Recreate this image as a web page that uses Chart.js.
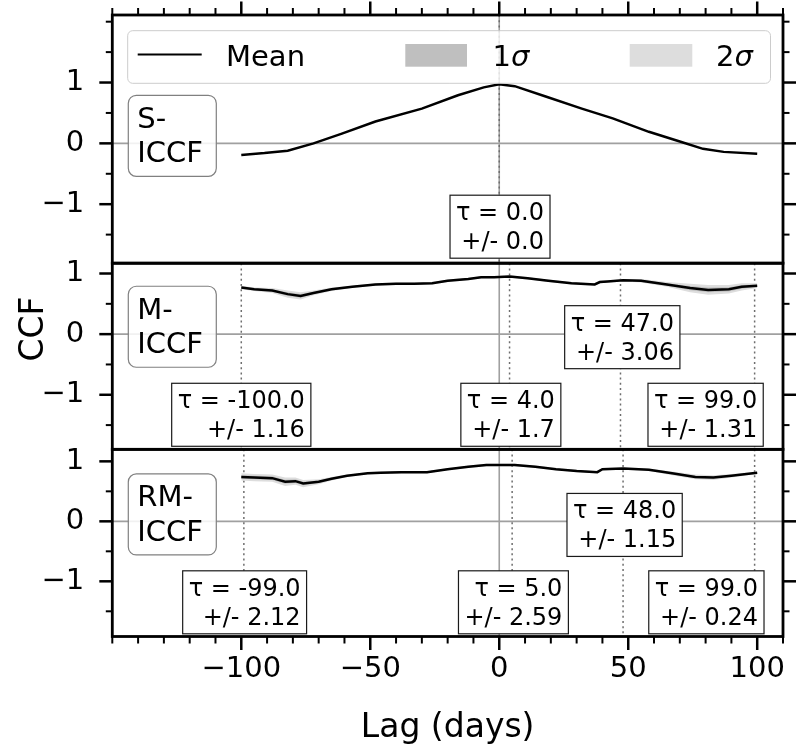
<!DOCTYPE html>
<html lang="en">
<head>
<meta charset="UTF-8">
<title>ICCF lag comparison</title>
<script src="https://cdn.jsdelivr.net/npm/chart.js@4"></script>
<style>
  html, body { margin: 0; padding: 0; background: #fff; }
  #wrap { width: 800px; height: 750px; }
</style>
</head>
<body>
<div id="wrap"><canvas id="ccfChart" width="800" height="750"></canvas></div>
<script>
// ---- data ----
// S-ICCF (top)
const sLag  = [-100, -91, -82, -72, -61, -48, -30, -16, -6, 0, 6, 18, 32, 44, 58, 70, 79, 87, 100];
const sMean = [-0.19, -0.16, -0.12, 0.00, 0.16, 0.36, 0.57, 0.79, 0.92, 0.97, 0.94, 0.77, 0.57, 0.41, 0.19, 0.03, -0.09, -0.14, -0.17];
const sTau    = [0];
const sTauErr = [0];

// M-ICCF (middle)
const mLag  = [-100, -95, -88, -82, -77, -72, -65, -57, -48, -40, -33, -26, -20, -12, -7, -2, 4, 11, 19, 28, 37, 39, 42, 48, 55, 65, 74, 81, 89, 94, 100];
const mMean = [0.77, 0.74, 0.72, 0.66, 0.63, 0.68, 0.74, 0.78, 0.82, 0.83, 0.83, 0.84, 0.88, 0.91, 0.94, 0.94, 0.95, 0.92, 0.88, 0.84, 0.82, 0.86, 0.87, 0.89, 0.88, 0.82, 0.76, 0.73, 0.74, 0.78, 0.80];
const mSig  = [0.015, 0.015, 0.02, 0.03, 0.03, 0.02, 0.015, 0.01, 0.01, 0.01, 0.01, 0.01, 0.01, 0.01, 0.01, 0.01, 0.01, 0.01, 0.01, 0.01, 0.01, 0.01, 0.01, 0.01, 0.015, 0.02, 0.035, 0.04, 0.035, 0.03, 0.02];
const mTau    = [-100, 4, 47, 99];
const mTauErr = [1.16, 1.7, 3.06, 1.31];

// RM-ICCF (bottom)
const rLag  = [-100, -95, -88, -83, -79, -76, -70, -65, -59, -51, -46, -38, -28, -20, -12, -5, 1, 6, 14, 22, 30, 38, 40, 48, 58, 67, 76, 83, 90, 100];
const rMean = [0.74, 0.73, 0.72, 0.66, 0.67, 0.63, 0.66, 0.71, 0.76, 0.80, 0.81, 0.82, 0.82, 0.87, 0.91, 0.94, 0.94, 0.94, 0.91, 0.87, 0.84, 0.82, 0.87, 0.88, 0.86, 0.80, 0.74, 0.73, 0.76, 0.81];
const rSig  = [0.03, 0.03, 0.03, 0.035, 0.03, 0.03, 0.02, 0.015, 0.01, 0.01, 0.01, 0.01, 0.01, 0.01, 0.01, 0.01, 0.01, 0.01, 0.01, 0.01, 0.01, 0.01, 0.01, 0.01, 0.01, 0.015, 0.02, 0.02, 0.015, 0.01];
const rTau    = [-99, 5, 48, 99];
const rTauErr = [2.12, 2.59, 1.15, 0.24];

const lagTicks = [-100, -50, 0, 50, 100];
const ccfTicks = [-1, 0, 1];
const panelNames = ['S-\nICCF', 'M-\nICCF', 'RM-\nICCF'];

// ---- layout (pixels / axis units) ----
const FONT = "'DejaVu Sans', sans-serif";
const BIG = 29;    // ticks, legend, panel names
const SMALL = 24;  // lag boxes
const TITLE = 33;  // axis titles
const panels = [
  { id: 'yS', min: -1.97, max: 2.11, weight: 248, taus: sTau, errs: sTauErr, boxes: [[0.3, -1.37]] },
  { id: 'yM', min: -1.90, max: 1.17, weight: 186, taus: mTau, errs: mTauErr, boxes: [[-100, -1.33], [4.5, -1.33], [47.7, -0.05], [80, -1.33]] },
  { id: 'yR', min: -1.92, max: 1.20, weight: 187, taus: rTau, errs: rTauErr, boxes: [[-98.7, -1.35], [5.5, -1.35], [48.6, -0.06], [80.3, -1.35]] }
];

const fmt = v => (v < 0 ? '\u2212' + Math.abs(v) : String(v));
const fmtErr = e => (Number.isInteger(e) ? e.toFixed(1) : String(e));
const pts = (xs, ys) => xs.map((x, i) => ({ x: x, y: ys[i] }));

function bandSets(xs, mean, sig, axis) {
  const out = [];
  [[2, '#dddddd', 2], [1, '#bfbfbf', 1]].forEach(([n, col, ord]) => {
    out.push({ data: pts(xs, mean.map((v, i) => v + n * sig[i])), yAxisID: axis, fill: '+1',
      backgroundColor: col, borderWidth: 0, pointRadius: 0, order: ord });
    out.push({ data: pts(xs, mean.map((v, i) => v - n * sig[i])), yAxisID: axis, fill: false,
      backgroundColor: col, borderWidth: 0, pointRadius: 0, order: ord });
  });
  return out;
}
const meanSet = (xs, ys, axis) => ({ data: pts(xs, ys), yAxisID: axis, borderColor: '#000',
  borderWidth: 2.5, pointRadius: 0, fill: false, order: 0 });

const datasets = [
  meanSet(sLag, sMean, 'yS'),
  meanSet(mLag, mMean, 'yM'), ...bandSets(mLag, mMean, mSig, 'yM'),
  meanSet(rLag, rMean, 'yR'), ...bandSets(rLag, rMean, rSig, 'yR')
];

function seg(ctx, x1, y1, x2, y2) {
  ctx.beginPath(); ctx.moveTo(x1, y1); ctx.lineTo(x2, y2); ctx.stroke();
}
function roundRect(ctx, x, y, w, h, r) {
  ctx.beginPath();
  ctx.moveTo(x + r, y); ctx.lineTo(x + w - r, y); ctx.arcTo(x + w, y, x + w, y + r, r);
  ctx.lineTo(x + w, y + h - r); ctx.arcTo(x + w, y + h, x + w - r, y + h, r);
  ctx.lineTo(x + r, y + h); ctx.arcTo(x, y + h, x, y + h - r, r);
  ctx.lineTo(x, y + r); ctx.arcTo(x, y, x + r, y, r);
  ctx.closePath();
}

const decor = {
  id: 'decor',
  beforeDatasetsDraw(chart) {
    const { ctx, chartArea: ca, scales } = chart;
    const xs = scales.x;
    ctx.save();
    panels.forEach(p => {
      const ys = scales[p.id];
      ctx.setLineDash([]);
      ctx.strokeStyle = '#a0a0a0';
      ctx.lineWidth = 1.6;
      const y0 = ys.getPixelForValue(0), x0 = xs.getPixelForValue(0);
      seg(ctx, ca.left, y0, ca.right, y0);
      seg(ctx, x0, ys.top, x0, ys.bottom);
      ctx.strokeStyle = '#6e6e6e';
      ctx.lineWidth = 1.5;
      ctx.setLineDash([2, 3.2]);
      p.taus.forEach(t => {
        const xp = xs.getPixelForValue(t);
        seg(ctx, xp, ys.top, xp, ys.bottom);
      });
    });
    ctx.restore();
  },
  afterDraw(chart) {
    const { ctx, chartArea: ca, scales } = chart;
    const xs = scales.x;
    ctx.save();
    ctx.setLineDash([]);

    panels.forEach((p, k) => {
      const ys = scales[p.id];
      // panel name box
      const bx = xs.getPixelForValue(-143.8), by = ys.getPixelForValue(0.79);
      ctx.fillStyle = 'rgba(255,255,255,0.85)';
      ctx.strokeStyle = '#808080';
      ctx.lineWidth = 1.2;
      roundRect(ctx, bx, by, 88, 81, 8);
      ctx.fill(); ctx.stroke();
      ctx.fillStyle = '#000';
      ctx.font = BIG + 'px ' + FONT;
      ctx.textAlign = 'left';
      ctx.textBaseline = 'alphabetic';
      panelNames[k].split('\n').forEach((ln, i) => ctx.fillText(ln, bx + 9, by + 32.3 + i * 34.7));

      // lag boxes
      ctx.font = SMALL + 'px ' + FONT;
      p.taus.forEach((t, i) => {
        const lines = ['\u03c4 = ' + t.toFixed(1), '+/- ' + fmtErr(p.errs[i])];
        const tw = Math.max(...lines.map(l => ctx.measureText(l).width));
        const w = tw + 12, h = 63;
        const cx = xs.getPixelForValue(p.boxes[i][0]), cy = ys.getPixelForValue(p.boxes[i][1]);
        const left = cx - w / 2, top = cy - h / 2;
        ctx.fillStyle = '#fff';
        ctx.strokeStyle = '#1a1a1a';
        ctx.lineWidth = 1.2;
        ctx.fillRect(left, top, w, h);
        ctx.strokeRect(left, top, w, h);
        ctx.fillStyle = '#000';
        ctx.textAlign = 'right';
        ctx.fillText(lines[0], left + w - 6, top + 25);
        ctx.fillText(lines[1], left + w - 6, top + 54);
      });

      // spines
      ctx.strokeStyle = '#000';
      ctx.lineWidth = 2.8;
      ctx.strokeRect(ca.left, ys.top, ca.right - ca.left, ys.bottom - ys.top);

      // y ticks both sides
      for (let v = -2; v <= 2.001; v += 0.5) {
        if (v < p.min - 1e-6 || v > p.max + 1e-6) continue;
        const yp = ys.getPixelForValue(v);
        const major = ccfTicks.includes(v);
        const len = major ? 13 : 6.5;
        ctx.lineWidth = major ? 2.5 : 2;
        seg(ctx, ca.left - len, yp, ca.left, yp);
        seg(ctx, ca.right, yp, ca.right + len, yp);
      }
    });

    // x ticks top and bottom
    const topY = scales.yS.top, botY = scales.yR.bottom;
    for (let v = -150; v <= 110; v += 10) {
      const xp = xs.getPixelForValue(v);
      const major = lagTicks.includes(v);
      const len = major ? 13.5 : 7;
      ctx.lineWidth = major ? 2.5 : 2;
      seg(ctx, xp, topY - len, xp, topY);
      seg(ctx, xp, botY, xp, botY + len);
    }

    // legend
    ctx.fillStyle = 'rgba(255,255,255,0.8)';
    ctx.strokeStyle = '#cccccc';
    ctx.lineWidth = 1;
    roundRect(ctx, 127.7, 30.7, 642.8, 52.6, 5);
    ctx.fill(); ctx.stroke();
    ctx.strokeStyle = '#000';
    ctx.lineWidth = 2;
    seg(ctx, 137.7, 54.5, 201.7, 54.5);
    ctx.fillStyle = '#bfbfbf'; ctx.fillRect(405.3, 44, 61.7, 22.7);
    ctx.fillStyle = '#dddddd'; ctx.fillRect(629.7, 44, 62.6, 22.7);
    ctx.fillStyle = '#000';
    ctx.textAlign = 'left';
    ctx.font = BIG + 'px ' + FONT;
    ctx.fillText('Mean', 226, 65.7);
    [['1', 492.5], ['2', 716]].forEach(([n, x]) => {
      ctx.font = BIG + 'px ' + FONT;
      ctx.fillText(n, x, 65.7);
      const w = ctx.measureText(n).width;
      ctx.font = 'italic ' + BIG + 'px ' + FONT;
      ctx.fillText('\u03c3', x + w, 65.7);
    });

    // axis titles
    ctx.font = TITLE + 'px ' + FONT;
    ctx.textAlign = 'center';
    ctx.fillText('Lag (days)', (ca.left + ca.right) / 2, 736.7);
    ctx.translate(43.3, 329);
    ctx.rotate(-Math.PI / 2);
    ctx.fillText('CCF', 0, 0);
    ctx.restore();
  }
};

const yScale = p => ({
  type: 'linear', position: 'left', stack: 'ccf', stackWeight: p.weight,
  weight: { yS: 3, yM: 2, yR: 1 }[p.id],
  min: p.min, max: p.max,
  grid: { display: false }, border: { display: false },
  afterBuildTicks: s => { s.ticks = ccfTicks.map(v => ({ value: v })); },
  afterFit: s => { s.width = 112.3; s.paddingTop = 0; s.paddingBottom = 0; },
  ticks: { callback: v => fmt(v), color: '#000', padding: 20, font: { family: FONT, size: BIG } }
});

const scales = {
  x: {
    type: 'linear', position: 'bottom', min: -150, max: 110,
    grid: { display: false }, border: { display: false },
    afterBuildTicks: s => { s.ticks = lagTicks.map(v => ({ value: v })); },
    afterFit: s => { s.height = 113.5; s.paddingLeft = 0; s.paddingRight = 0; },
    ticks: { callback: v => fmt(v), color: '#000', padding: 8, maxRotation: 0, font: { family: FONT, size: BIG } }
  }
};
panels.forEach(p => { scales[p.id] = yScale(p); });

new Chart(document.getElementById('ccfChart'), {
  type: 'line',
  data: { datasets: datasets },
  options: {
    responsive: false,
    animation: false,
    layout: { padding: { top: 15, right: 17, left: 0, bottom: 0 } },
    elements: { line: { tension: 0 } },
    plugins: { legend: { display: false }, tooltip: { enabled: false } },
    scales: scales
  },
  plugins: [decor]
});
</script>
</body>
</html>
